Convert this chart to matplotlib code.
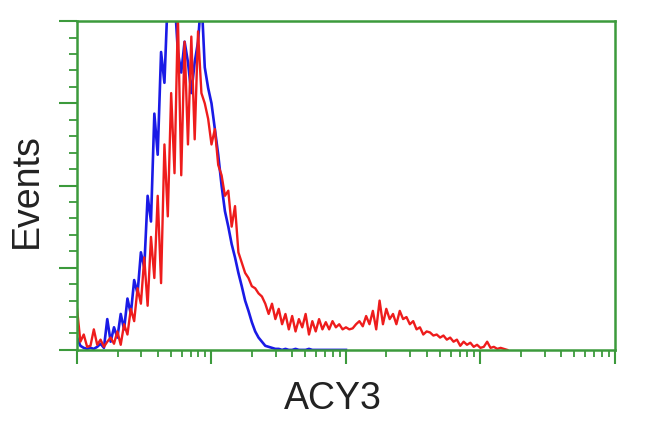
#histogram ACY3 - flow cytometry style
import numpy as np
import matplotlib
matplotlib.use('Agg')
import matplotlib.pyplot as mpl
from matplotlib.ticker import LogLocator, MultipleLocator, NullFormatter

#----------------------------------------------------dati letti dal grafico
#canali: 40 per decade, partendo da 10^0
step = 0.025

#blu (controllo)
blu = [12, 4, 2, 1, 2, 1, 3, 6, 2, 30,
       8, 22, 12, 35, 20, 50, 35, 68, 55, 95,
       80, 150, 125, 230, 190, 290, 260, 345, 330, 345,
       290, 270, 300, 280, 250, 280, 300, 345, 275, 255,
       240, 215, 190, 160, 135, 120, 103, 90, 75, 62,
       48, 38, 27, 18, 12, 8, 4, 3, 2, 1,
       1, 0, 1, 0, 0, 1, 0, 0, 0, 1,
       0, 0, 0, 0, 0, 0, 0, 0, 0, 0, 0]

#rosso (ACY3)
rosso = [40, 8, 15, 3, 4, 20, 5, 10, 3, 8,
         12, 6, 18, 5, 25, 15, 40, 28, 60, 45,
         90, 43, 110, 70, 150, 65, 200, 130, 250, 172,
         325, 170, 300, 200, 305, 205, 310, 250, 240, 225,
         200, 215, 180, 170, 150, 155, 120, 140, 95, 85,
         75, 70, 62, 60, 55, 52, 45, 35, 45, 30,
         40, 25, 35, 20, 33, 18, 30, 22, 35, 15,
         28, 18, 30, 20, 27, 20, 28, 22, 25, 20,
         22, 20, 21, 25, 28, 23, 33, 25, 38, 20,
         48, 25, 40, 30, 35, 25, 38, 30, 32, 25,
         28, 20, 22, 15, 18, 17, 14, 15, 12, 14,
         10, 12, 8, 10, 4, 8, 5, 7, 3, 5,
         2, 3, 8, 2, 3, 1, 2, 1, 0]

x_blu = 10 ** (np.arange(len(blu)) * step)
x_rosso = 10 ** (np.arange(len(rosso)) * step)

#----------------------------------------------------grafico
verde = '#3c9a3c'
fig = mpl.figure(figsize=(6.5, 4.32), dpi=100)
ax = fig.add_axes([0.1185, 0.19, 0.8275, 0.761])

ax.plot(x_blu, blu, color='#1a1ae6', linewidth=1.9)
ax.plot(x_rosso, rosso, color='#ee1c1c', linewidth=1.7)

ax.set_xscale('log')
ax.set_xlim(1, 10000)
ax.set_ylim(0, 320)

ax.xaxis.set_major_locator(LogLocator(base=10))
ax.xaxis.set_minor_locator(LogLocator(base=10, subs=np.arange(2, 10)))
ax.xaxis.set_major_formatter(NullFormatter())
ax.xaxis.set_minor_formatter(NullFormatter())
ax.yaxis.set_major_locator(MultipleLocator(80))
ax.yaxis.set_minor_locator(MultipleLocator(16))
ax.yaxis.set_major_formatter(NullFormatter())

ax.tick_params(axis='x', which='major', direction='out', length=10, width=1.5, color=verde)
ax.tick_params(axis='x', which='minor', direction='out', length=5, width=1.3, color=verde)
ax.tick_params(axis='y', which='major', direction='out', length=13, width=1.5, color=verde)
ax.tick_params(axis='y', which='minor', direction='out', length=6, width=1.3, color=verde)

for s in ax.spines.values():
    s.set_color(verde)
    s.set_linewidth(1.8)

fig.text(0.042, 0.56, 'Events', rotation=90, ha='center', va='center',
         fontsize=27, family='Liberation Sans', color='#222222')
fig.text(0.512, 0.076, 'ACY3', ha='center', va='center',
         fontsize=27, family='Liberation Sans', color='#222222')

mpl.savefig('out.png', dpi=100)
